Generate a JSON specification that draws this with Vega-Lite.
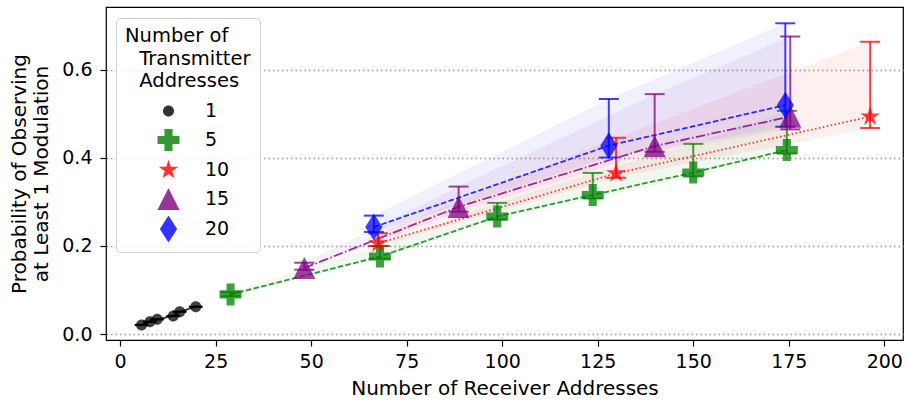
{
  "$schema": "https://vega.github.io/schema/vega-lite/v6.json",
  "width": 797,
  "height": 333,
  "autosize": {"type": "none"},
  "padding": {"left": 106, "top": 7, "right": 4, "bottom": 61},
  "config": {
    "font": "DejaVu Sans",
    "view": {"stroke": "black", "strokeWidth": 1.2},
    "axis": {
      "domain": false,
      "tickColor": "black",
      "tickSize": 6,
      "tickWidth": 1.2,
      "labelColor": "black",
      "labelFontSize": 19,
      "titleColor": "black",
      "titleFontSize": 20,
      "titleFontWeight": "normal",
      "labelFont": "DejaVu Sans",
      "titleFont": "DejaVu Sans"
    },
    "legend": {
      "titleFont": "DejaVu Sans",
      "labelFont": "DejaVu Sans"
    }
  },
  "datasets": {
    "pts": [
      {"s": "1", "x": 5.6, "y": 0.0205, "lo": 0.0205, "hi": 0.0205, "xlo": 3.8, "xhi": 7.4},
      {"s": "1", "x": 7.8, "y": 0.028, "lo": 0.028, "hi": 0.028, "xlo": 6.0, "xhi": 9.6},
      {"s": "1", "x": 9.7, "y": 0.0334, "lo": 0.0334, "hi": 0.0334, "xlo": 7.9, "xhi": 11.5},
      {"s": "1", "x": 13.9, "y": 0.041, "lo": 0.041, "hi": 0.041, "xlo": 12.1, "xhi": 15.7},
      {"s": "1", "x": 15.6, "y": 0.0507, "lo": 0.0507, "hi": 0.0507, "xlo": 13.8, "xhi": 17.4},
      {"s": "1", "x": 19.8, "y": 0.062, "lo": 0.062, "hi": 0.062, "xlo": 18.0, "xhi": 21.6},
      {"s": "5", "x": 28.9, "y": 0.09, "lo": 0.086, "hi": 0.095},
      {"s": "5", "x": 68.0, "y": 0.176, "lo": 0.171, "hi": 0.2},
      {"s": "5", "x": 98.7, "y": 0.267, "lo": 0.26, "hi": 0.298},
      {"s": "5", "x": 123.7, "y": 0.316, "lo": 0.308, "hi": 0.366},
      {"s": "5", "x": 150.0, "y": 0.367, "lo": 0.358, "hi": 0.432},
      {"s": "5", "x": 174.5, "y": 0.418, "lo": 0.41, "hi": 0.507},
      {"s": "10", "x": 67.5, "y": 0.206, "lo": 0.2, "hi": 0.229},
      {"s": "10", "x": 129.8, "y": 0.365, "lo": 0.355, "hi": 0.446},
      {"s": "10", "x": 196.3, "y": 0.494, "lo": 0.468, "hi": 0.664},
      {"s": "15", "x": 48.2, "y": 0.15, "lo": 0.146, "hi": 0.162},
      {"s": "15", "x": 88.6, "y": 0.289, "lo": 0.278, "hi": 0.335},
      {"s": "15", "x": 139.9, "y": 0.427, "lo": 0.414, "hi": 0.545},
      {"s": "15", "x": 175.4, "y": 0.494, "lo": 0.465, "hi": 0.676},
      {"s": "20", "x": 66.4, "y": 0.243, "lo": 0.232, "hi": 0.269},
      {"s": "20", "x": 127.9, "y": 0.428, "lo": 0.401, "hi": 0.534},
      {"s": "20", "x": 174.1, "y": 0.52, "lo": 0.471, "hi": 0.706}
    ]
  },
  "data": {"name": "pts"},
  "encoding": {
    "x": {
      "field": "x",
      "type": "quantitative",
      "scale": {"domain": [-3.7, 204.9], "nice": false, "zero": false},
      "axis": {
        "title": "Number of Receiver Addresses",
        "values": [0, 25, 50, 75, 100, 125, 150, 175, 200],
        "grid": false,
        "labelPadding": 6,
        "titlePadding": 7
      }
    }
  },
  "layer": [
    {
      "transform": [{"filter": "datum.s != '1'"}],
      "mark": {"type": "area", "fillOpacity": 0.06, "strokeWidth": 0},
      "encoding": {
        "y": {"field": "lo", "type": "quantitative"},
        "y2": {"field": "hi"},
        "color": {"field": "s", "type": "nominal"}
      }
    },
    {
      "mark": {"type": "line", "strokeWidth": 1.8, "opacity": 0.8},
      "encoding": {
        "y": {"field": "y", "type": "quantitative"},
        "color": {"field": "s", "type": "nominal"},
        "strokeDash": {
          "field": "s",
          "type": "nominal",
          "scale": {
            "domain": ["1", "5", "10", "15", "20"],
            "range": [[1, 0], [5.5, 2.4], [1.5, 2.5], [9.6, 2.4, 1.5, 2.4], [5.5, 2.4]]
          },
          "legend": null
        }
      }
    },
    {
      "transform": [{"filter": "datum.s != '1'"}],
      "mark": {"type": "rule", "strokeWidth": 2, "opacity": 0.75},
      "encoding": {
        "y": {"field": "lo", "type": "quantitative"},
        "y2": {"field": "hi"},
        "color": {"field": "s", "type": "nominal"}
      }
    },
    {
      "transform": [{"filter": "datum.s != '1'"}],
      "mark": {"type": "tick", "orient": "horizontal", "size": 20, "thickness": 2, "opacity": 0.75},
      "encoding": {
        "y": {"field": "hi", "type": "quantitative"},
        "color": {"field": "s", "type": "nominal"}
      }
    },
    {
      "transform": [{"filter": "datum.s != '1'"}],
      "mark": {"type": "tick", "orient": "horizontal", "size": 20, "thickness": 2, "opacity": 0.75},
      "encoding": {
        "y": {"field": "lo", "type": "quantitative"},
        "color": {"field": "s", "type": "nominal"}
      }
    },
    {
      "transform": [{"filter": "datum.s == '1'"}],
      "mark": {"type": "rule", "strokeWidth": 2.2, "color": "black"},
      "encoding": {
        "x": {"field": "xlo", "type": "quantitative"},
        "x2": {"field": "xhi"},
        "y": {"field": "y", "type": "quantitative"}
      }
    },
    {
      "mark": {"type": "point", "filled": true, "opacity": 0.75, "strokeWidth": 0, "size": 729},
      "encoding": {
        "y": {
          "field": "y",
          "type": "quantitative",
          "scale": {"domain": [-0.0136, 0.743], "nice": false, "zero": false},
          "axis": {
            "title": ["Probability of Observing", "at Least 1 Modulation"],
            "titleLineHeight": 22,
            "values": [0, 0.2, 0.4, 0.6],
            "format": ".1f",
            "grid": true,
            "gridColor": "#999999",
            "gridDash": [1.5, 3],
            "gridWidth": 1.5,
            "labelPadding": 8,
            "titlePadding": 10
          }
        },
        "color": {
          "field": "s",
          "type": "nominal",
          "scale": {
            "domain": ["1", "5", "10", "15", "20"],
            "range": ["#000000", "#008000", "#ff0000", "#800080", "#0000ff"]
          },
          "legend": {
            "title": ["Number of", "\u2800Transmitter", "\u2800Addresses"],
            "orient": "none",
            "legendX": 10,
            "legendY": 11,
            "padding": 9,
            "strokeColor": "#d0d0d0",
            "fillColor": "rgba(255,255,255,0.85)",
            "cornerRadius": 4,
            "titleFontSize": 19.5,
            "titleFontWeight": "normal",
            "titleColor": "black",
            "titleLineHeight": 22.5,
            "titlePadding": 6,
            "labelFontSize": 19,
            "labelColor": "black",
            "symbolSize": 729,
            "symbolOpacity": 0.75,
            "symbolOffset": 30,
            "labelOffset": 23,
            "rowPadding": 5,
            "symbolStrokeWidth": 0
          }
        },
        "shape": {
          "field": "s",
          "type": "nominal",
          "scale": {
            "domain": ["1", "5", "10", "15", "20"],
            "range": [
              "M-0.41,0A0.41,0.41 0 1,0 0.41,0A0.41,0.41 0 1,0 -0.41,0Z",
              "M-0.3,-0.815L0.3,-0.815L0.3,-0.3L0.815,-0.3L0.815,0.3L0.3,0.3L0.3,0.815L-0.3,0.815L-0.3,0.3L-0.815,0.3L-0.815,-0.3L-0.3,-0.3Z",
              "M0,-0.76L0.171,-0.235L0.723,-0.235L0.276,0.09L0.447,0.615L0,0.29L-0.447,0.615L-0.276,0.09L-0.723,-0.235L-0.171,-0.235Z",
              "M0,-0.82L0.82,0.82L-0.82,0.82Z",
              "M0,-1L0.64,0L0,1L-0.64,0Z"
            ]
          },
          "legend": {
            "title": ["Number of", "\u2800Transmitter", "\u2800Addresses"]
          }
        }
      }
    }
  ]
}
